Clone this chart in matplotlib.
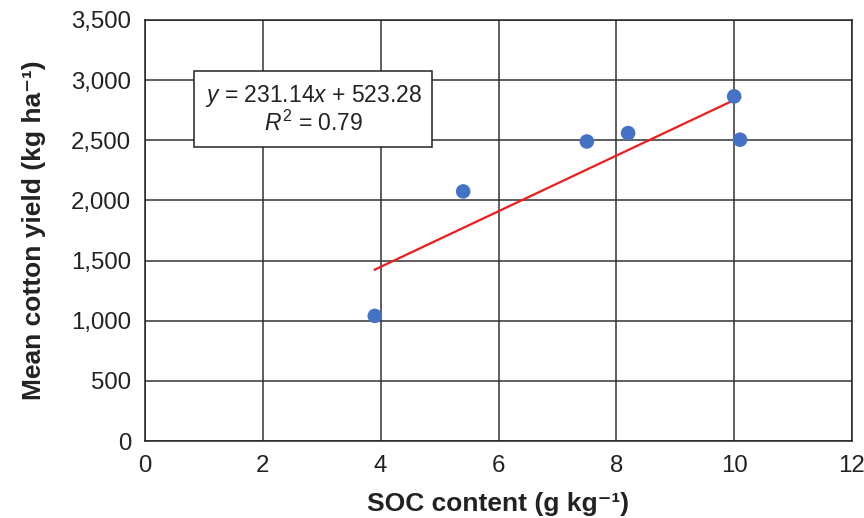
import matplotlib
matplotlib.use('Agg')
import matplotlib.pyplot as plt
from matplotlib.ticker import FuncFormatter

plt.rcParams['font.family'] = ['Liberation Sans', 'DejaVu Sans']
plt.rcParams['mathtext.fontset'] = 'custom'
plt.rcParams['mathtext.rm'] = 'Liberation Sans'
plt.rcParams['mathtext.it'] = 'Liberation Sans:italic'
plt.rcParams['mathtext.bf'] = 'Liberation Sans:bold'

# data
soc = [3.9, 5.4, 7.5, 8.2, 10.0, 10.1]
yield_kg = [1040, 2075, 2490, 2560, 2865, 2505]
slope = 231.14
intercept = 523.28
r2 = 0.79

fig, ax = plt.subplots(figsize=(8.64, 5.18), dpi=100)
fig.subplots_adjust(left=145 / 864, right=852 / 864, top=1 - 20 / 518, bottom=1 - 441 / 518)

# grid
ax.grid(True, color='#333333', linewidth=1.1)
ax.set_axisbelow(True)
for s in ax.spines.values():
    s.set_color('#222222')
    s.set_linewidth(1.1)

# trend line over data range
x0, x1 = min(soc), max(soc)
ax.plot([x0, x1], [slope * x0 + intercept, slope * x1 + intercept], color='#ee1c1c', lw=1.6, zorder=3)

ax.scatter(soc, yield_kg, s=110, color='#4472c4', zorder=4, edgecolors='none')

ax.set_xlim(0, 12)
ax.set_ylim(0, 3500)
ax.set_xticks(range(0, 13, 2))
ax.set_yticks(range(0, 3501, 500))
ax.yaxis.set_major_formatter(FuncFormatter(lambda v, p: f'{int(v):,}'))
ax.tick_params(length=0, labelsize=17.3, colors='#222222')
ax.tick_params(axis='x', pad=10)
ax.tick_params(axis='y', pad=10)

ax.set_xlabel('SOC content (g kg⁻¹)', fontsize=19, fontweight='bold', color='#222222', labelpad=11)
ax.set_ylabel('Mean cotton yield (kg ha⁻¹)', fontsize=19, fontweight='bold', color='#222222', labelpad=18)

eq = r'$\it{y}$ = ' + f'{slope:.2f}' + r'$\it{x}$ + ' + f'{intercept:.2f}' + '\n' + r'$\it{R}^2$ = ' + f'{r2:.2f}'
ax.text(0.238, 0.787, eq, transform=ax.transAxes, ha='center', va='center', fontsize=16.5,
        color='#222222', linespacing=1.1,
        bbox=dict(boxstyle='square,pad=0.45', facecolor='white', edgecolor='#222222', linewidth=1.1),
        zorder=5)

fig.savefig('out.png', dpi=100)
